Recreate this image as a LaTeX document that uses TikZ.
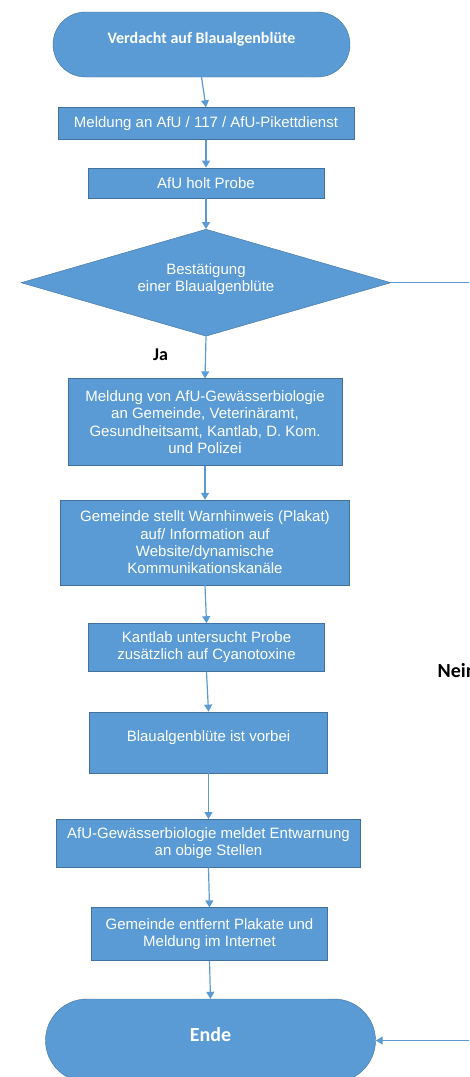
\documentclass[tikz,border=0pt]{standalone}
\usepackage{fontspec}
\setmainfont{Liberation Sans}
\newfontfamily\calibri{Carlito}
\usepackage{tikz}
\usetikzlibrary{shapes.geometric, shapes.misc, positioning, arrows.meta}
\definecolor{flowblue}{HTML}{5B9BD5}
\definecolor{flowedge}{HTML}{41719C}
\tikzset{
	>={Triangle[width=8pt,length=7pt]},
	every node/.style={inner sep=0pt},
	box/.style={rectangle, draw=flowedge, fill=flowblue, text=white, align=center,
		font=\fontsize{15}{17.4}\selectfont},
	terminal/.style={rounded rectangle, draw=flowedge, fill=flowblue, text=white,
		font=\calibri\bfseries\fontsize{16}{19}\selectfont},
	decision/.style={diamond, aspect=3.46, draw=flowedge, fill=flowblue, text=white, align=center,
		font=\fontsize{15}{16.5}\selectfont},
	flow/.style={->, draw=flowblue, line width=1.2pt},
	answer/.style={text=black, font=\calibri\bfseries\fontsize{18}{21}\selectfont},
}

\begin{document}
\begin{tikzpicture}
			\useasboundingbox (0,0) rectangle (469pt,-1077pt);
			\clip (0,0) rectangle (469pt,-1077pt);
			
			\node[terminal, minimum width=297pt, minimum height=65pt, text height=11pt, text depth=14pt] (START) at (201.5pt,-44.5pt) {Verdacht auf Blaualgenblüte};
			\node[box, below=30pt of START, xshift=4.5pt, minimum width=296pt, minimum height=32pt] (MELDUNG) {Meldung an AfU / 117 / AfU-Pikettdienst};
			\node[box, below=28pt of MELDUNG, minimum width=236pt, minimum height=30pt] (PROBE) {AfU holt Probe};
			\node[decision, below=31pt of PROBE, minimum width=370pt, minimum height=107pt] (CHECK) {Bestätigung\\einer Blaualgenblüte\\[-6pt]\mbox{}};
			\node[box, below=42pt of CHECK, xshift=-1pt, minimum width=274pt, minimum height=87pt] (NOTIFY) {Meldung von AfU-Gewässerbiologie\\an Gemeinde, Veterinäramt,\\Gesundheitsamt, Kantlab, D. Kom.\\und Polizei};
			\node[box, below=34pt of NOTIFY, minimum width=289pt, minimum height=85pt] (WARNING) {Gemeinde stellt Warnhinweis (Plakat)\\auf/ Information auf\\Website/dynamische\\Kommunikationskanäle};
			\node[box, below=38pt of WARNING, xshift=1.5pt, minimum width=236pt, minimum height=48pt] (TOXIN) {Kantlab untersucht Probe\\zusätzlich auf Cyanotoxine};
			\node[box, below=40pt of TOXIN, xshift=2pt, minimum width=238pt, minimum height=61pt] (OVER) {Blaualgenblüte ist vorbei\\[-4pt]\mbox{}};
			\node[box, below=46pt of OVER, minimum width=304pt, minimum height=48pt] (ALLCLEAR) {AfU-Gewässerbiologie meldet Entwarnung\\an obige Stellen};
			\node[box, below=40pt of ALLCLEAR, xshift=1pt, minimum width=236pt, minimum height=53pt] (REMOVE) {Gemeinde entfernt Plakate und\\Meldung im Internet};
			\node[terminal, below=38pt of REMOVE, xshift=1pt, minimum width=330pt, minimum height=83pt, font=\calibri\bfseries\fontsize{20}{24}\selectfont, text height=14pt, text depth=12pt] (END) {Ende};
			\coordinate[right=100pt of CHECK.east] (NEINBEND);
			
			\draw[flow] (START.south) -- (MELDUNG.north);
			\draw[flow] (MELDUNG.south) -- (PROBE.north);
			\draw[flow] (PROBE.south) -- (CHECK.north);
			\draw[flow] (CHECK.south) -- node[answer, pos=0.43, left=37pt] (JA) {Ja} (NOTIFY.north);
			\draw[flow] (NOTIFY.south) -- (WARNING.north);
			\draw[flow] (WARNING.south) -- (TOXIN.north);
			\draw[flow] (TOXIN.south) -- (OVER.north);
			\draw[flow] (OVER.south) -- (ALLCLEAR.north);
			\draw[flow] (ALLCLEAR.south) -- (REMOVE.north);
			\draw[flow] (REMOVE.south) -- (END.north);
			\draw[flow] (CHECK.east) -- (NEINBEND) |- node[answer, pos=0.256, left=14pt, font=\calibri\bfseries\fontsize{20}{24}\selectfont] (NEIN) {Nein} (END.east);
		\end{tikzpicture}
\end{document}
